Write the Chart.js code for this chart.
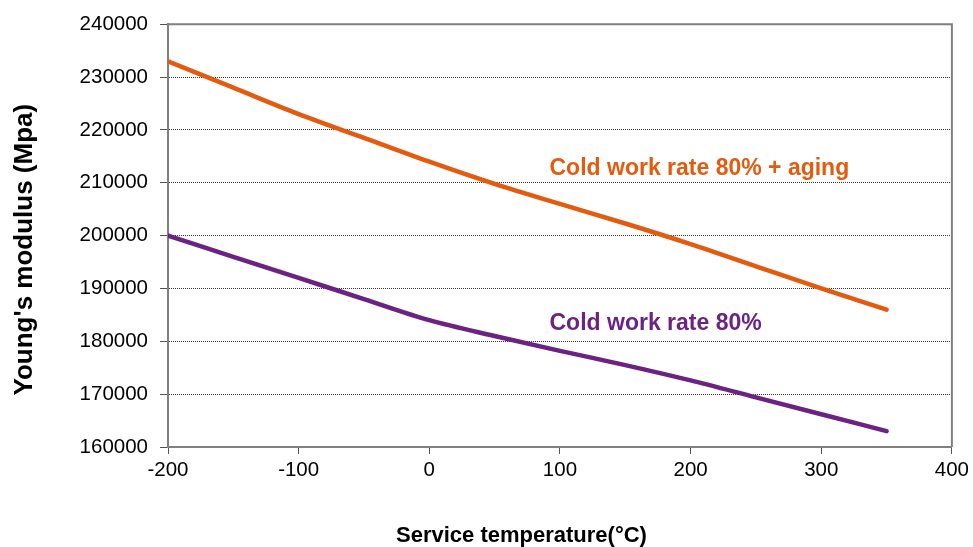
<!DOCTYPE html>
<html>
<head>
<meta charset="utf-8">
<script src="https://cdn.jsdelivr.net/npm/chart.js@4/dist/chart.umd.min.js"></script>
<style>
  html, body { margin: 0; padding: 0; background: #fff; }
  #wrap { width: 973px; height: 547px; }
</style>
</head>
<body>
<div id="wrap"><canvas id="chart"></canvas></div>
<script>
// --- data ---
const temperatures = [-200, -150, -100, -50, 0, 50, 100, 150, 200, 250, 300, 350];
const agedValues = [233000, 228000, 223000, 218500, 214000, 209800, 206000, 202300, 198400, 194200, 190000, 186000];
const coldWorkValues = [200000, 196000, 192000, 188000, 184000, 181000, 178200, 175500, 172600, 169400, 166200, 163000];
const seriesNames = ['Cold work rate 80% + aging', 'Cold work rate 80%'];
const xTicks = [-200, -100, 0, 100, 200, 300, 400];
const yTicks = [160000, 170000, 180000, 190000, 200000, 210000, 220000, 230000, 240000];
const xTitle = 'Service temperature(°C)';
const yTitle = "Young's modulus (Mpa)";

// label anchors in data units (temperature, modulus)
const labelAnchors = [[92, 212700], [92, 183400]];

const ORANGE = '#E35B0E';
const PURPLE = '#6C2282';
const FONT = "'Liberation Sans', Arial, sans-serif";

const toPoints = (vals) => temperatures.map((t, i) => ({ x: t, y: vals[i] }));

// frame (top/right), axis titles and the in-plot series labels
const decorPlugin = {
    id: 'decor',
    afterDatasetsDraw(chart) {
        const { ctx, chartArea, scales } = chart;
        ctx.save();
        ctx.strokeStyle = '#808080';
        ctx.lineWidth = 2;
        ctx.beginPath();
        ctx.moveTo(chartArea.left, chartArea.top);
        ctx.lineTo(chartArea.right, chartArea.top);
        ctx.lineTo(chartArea.right, chartArea.bottom);
        ctx.stroke();

        ctx.font = 'bold 23px ' + FONT;
        ctx.textBaseline = 'middle';
        ctx.textAlign = 'left';
        [ORANGE, PURPLE].forEach((c, i) => {
            ctx.fillStyle = c;
            ctx.fillText(seriesNames[i],
                scales.x.getPixelForValue(labelAnchors[i][0]),
                scales.y.getPixelForValue(labelAnchors[i][1]));
        });

        // axis titles, placed like the original (slightly off-centre)
        ctx.fillStyle = '#000';
        ctx.textAlign = 'center';
        ctx.font = 'bold 22px ' + FONT;
        ctx.fillText(xTitle, chart.width / 2 + 35, chart.height - 11);

        ctx.translate(25, (chartArea.top + chartArea.bottom) / 2 + 14);
        ctx.rotate(-Math.PI / 2);
        ctx.font = 'bold 26px ' + FONT;
        ctx.fillText(yTitle, 0, 0);
        ctx.restore();
    }
};

new Chart(document.getElementById('chart'), {
    type: 'line',
    data: {
        datasets: [
            { label: seriesNames[0], data: toPoints(agedValues), borderColor: ORANGE },
            { label: seriesNames[1], data: toPoints(coldWorkValues), borderColor: PURPLE }
        ]
    },
    options: {
        responsive: true,
        maintainAspectRatio: false,
        animation: false,
        layout: { padding: { top: 19, right: 21, left: 0, bottom: 0 } },
        elements: {
            point: { radius: 0 },
            line: { borderWidth: 4.5, cubicInterpolationMode: 'monotone', borderCapStyle: 'round' }
        },
        plugins: { legend: { display: false }, tooltip: { enabled: false } },
        scales: {
            x: {
                type: 'linear',
                min: -200,
                max: 400,
                afterFit: (s) => { s.height = 100; },
                afterBuildTicks: (s) => { s.ticks = xTicks.map(v => ({ value: v })); },
                ticks: {
                    color: '#000',
                    font: { family: FONT, size: 20.5 },
                    padding: 4,
                    maxRotation: 0,
                    callback: (v) => String(v)
                },
                grid: { drawOnChartArea: false, drawTicks: true, tickLength: 7, tickColor: '#555', tickWidth: 1 },
                border: { color: '#808080', width: 2 }
            },
            y: {
                min: 160000,
                max: 240000,
                afterFit: (s) => { s.width = 168; },
                afterBuildTicks: (s) => { s.ticks = yTicks.map(v => ({ value: v })); },
                ticks: {
                    color: '#000',
                    font: { family: FONT, size: 20.5 },
                    padding: 12,
                    callback: (v) => String(v)
                },
                grid: { color: '#333', lineWidth: 1, drawTicks: true, tickLength: 8, tickColor: '#555', tickWidth: 1 },
                border: { color: '#808080', width: 2, dash: [1, 1] }
            }
        }
    },
    plugins: [decorPlugin]
});
</script>
</body>
</html>
